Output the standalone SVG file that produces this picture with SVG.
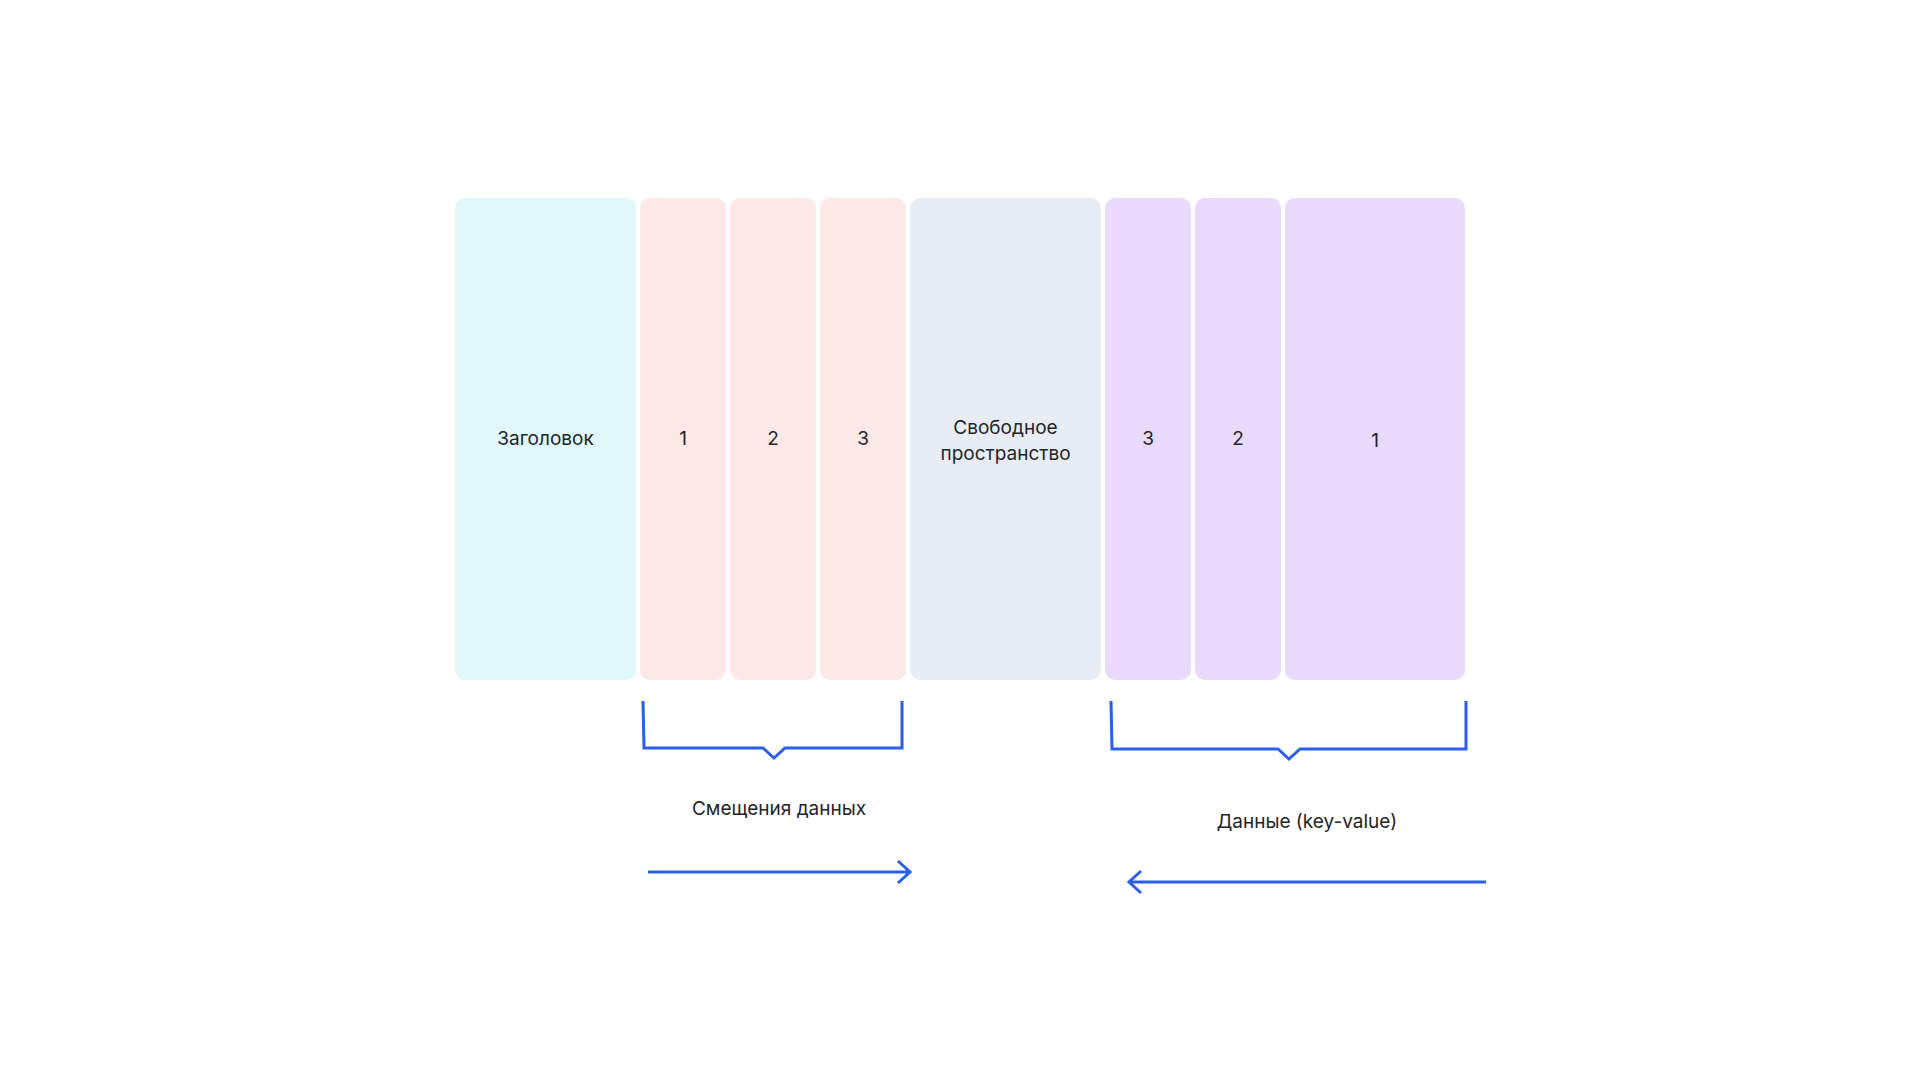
<svg xmlns="http://www.w3.org/2000/svg" width="1920" height="1081" viewBox="0 0 1920 1081">
<style>
  .lbl { font-family: Inter, "Noto Sans", "Liberation Sans", sans-serif; font-size: 19px; fill: #222428; text-anchor: middle; }
  .hdr { fill: #E0F8F9; }
  .off { fill: #FDE8E8; }
  .free { fill: #E8EDF5; }
  .kv { fill: #E9D9FD; }
  .conn { fill: none; stroke: #2B5FE8; stroke-width: 3; stroke-linejoin: miter; stroke-linecap: butt; }
</style>
<rect x="0" y="0" width="1920" height="1081" fill="#FFFFFF"/>
<g id="header"><rect class="hdr" x="455" y="198" width="181" height="482" rx="10"/><text class="lbl" x="545.5" y="445">Заголовок</text></g>
<g id="offset-1"><rect class="off" x="640" y="198" width="86" height="482" rx="10"/><text class="lbl" x="683" y="445">1</text></g>
<g id="offset-2"><rect class="off" x="730" y="198" width="86" height="482" rx="10"/><text class="lbl" x="773" y="445">2</text></g>
<g id="offset-3"><rect class="off" x="820" y="198" width="86" height="482" rx="10"/><text class="lbl" x="863" y="445">3</text></g>
<g id="free-space"><rect class="free" x="910" y="198" width="191" height="482" rx="10"/><text class="lbl" x="1005.5" y="434">Свободное</text><text class="lbl" x="1005.5" y="460">пространство</text></g>
<g id="data-3"><rect class="kv" x="1105" y="198" width="86" height="482" rx="10"/><text class="lbl" x="1148" y="445">3</text></g>
<g id="data-2"><rect class="kv" x="1195" y="198" width="86" height="482" rx="10"/><text class="lbl" x="1238" y="445">2</text></g>
<g id="data-1"><rect class="kv" x="1285" y="198" width="180" height="482" rx="10"/><text class="lbl" x="1375" y="447">1</text></g>
<g id="offsets-label"><text class="lbl" x="779" y="815">Смещения данных</text></g>
<g id="data-label"><text class="lbl" x="1307" y="828">Данные (key-value)</text></g>
<g id="connectors">
  <path class="conn" d="M643,701 L644,748 L763,748 L774,758 L785,748 L902,748 L902,701"/>
  <path class="conn" d="M1111,701 L1112,749 L1278,749 L1289,759 L1300,749 L1466,749 L1466,701"/>
  <path class="conn" d="M648,872 L909,872"/>
  <path class="conn" d="M898,861 L910,872 L898,883"/>
  <path class="conn" d="M1486,882 L1130,882"/>
  <path class="conn" d="M1141,871 L1129,882 L1141,893"/>
</g>
</svg>
